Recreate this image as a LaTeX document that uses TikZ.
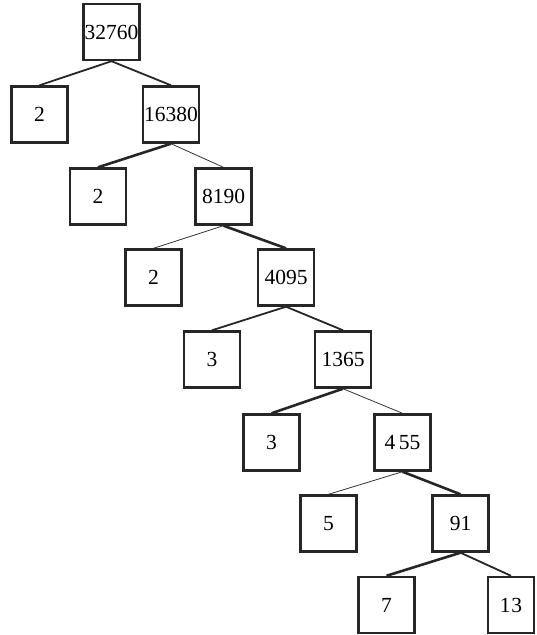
\documentclass[tikz,border=0pt]{standalone}
\usepackage{fontspec}
\setmainfont{Liberation Serif}
\begin{document}
\begin{tikzpicture}[x=1pt,y=-1pt,
  numbox/.style={draw=black!85, line width=2.4pt, minimum width=56pt, minimum height=56pt, inner sep=0pt, font=\fontsize{21.5}{24}\selectfont},
  thickedge/.style={draw=black!85, line width=2.6pt},
  midedge/.style={draw=black!85, line width=1.8pt},
  thinedge/.style={draw=black!80, line width=0.8pt}]
\useasboundingbox (0,0) rectangle (537,635);
\node[numbox] (a) at (111.5,32) {32760};
\node[numbox] (b1) at (39.5,114.5) {2};
\node[numbox] (b2) at (171,114.5) {16380};
\node[numbox] (c1) at (98,196.5) {2};
\node[numbox] (c2) at (223.5,196.5) {8190};
\node[numbox] (d1) at (153.5,277.5) {2};
\node[numbox] (d2) at (286,277.5) {4095};
\node[numbox] (e1) at (212,359.5) {3};
\node[numbox] (e2) at (343,359.5) {1365};
\node[numbox] (f1) at (271.5,442.5) {3};
\node[numbox] (f2) at (402.5,442.5) {4\,55};
\node[numbox] (g1) at (328.5,523.5) {5};
\node[numbox] (g2) at (460.5,523.5) {91};
\node[numbox] (h1) at (386.5,605) {7};
\node[numbox, minimum width=46pt] (h2) at (511,605) {1\kern1pt3};
\draw[midedge] (a.south) -- (b1.north);
\draw[midedge] (a.south) -- (b2.north);
\draw[thickedge] (b2.south) -- (c1.north);
\draw[thinedge] (b2.south) -- (c2.north);
\draw[thinedge] (c2.south) -- (d1.north);
\draw[thickedge] (c2.south) -- (d2.north);
\draw[midedge] (d2.south) -- (e1.north);
\draw[midedge] (d2.south) -- (e2.north);
\draw[thickedge] (e2.south) -- (f1.north);
\draw[thinedge] (e2.south) -- (f2.north);
\draw[thinedge] (f2.south) -- (g1.north);
\draw[thickedge] (f2.south) -- (g2.north);
\draw[thickedge] (g2.south) -- (h1.north);
\draw[midedge] (g2.south) -- (h2.north);
\end{tikzpicture}
\end{document}
